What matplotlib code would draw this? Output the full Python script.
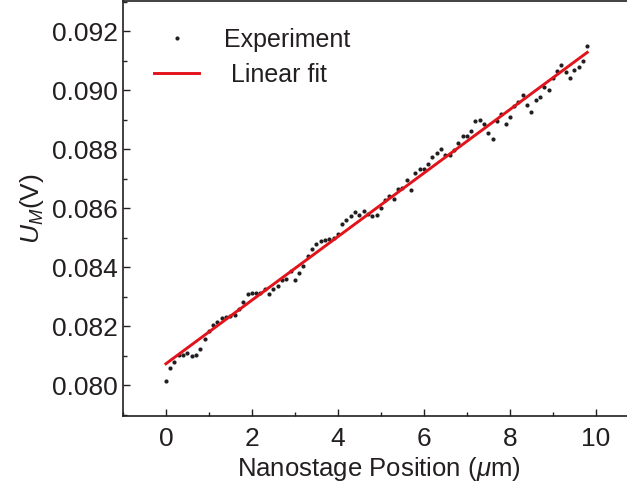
import numpy as np
import matplotlib.pyplot as plt
from matplotlib.ticker import MultipleLocator, FormatStrFormatter

position = np.round(np.arange(0, 9.85, 0.1), 1)
voltage = [
    0.08015, 0.08058, 0.08079, 0.08101, 0.08102, 0.08107, 0.08099, 0.08101, 0.08123, 0.08157,
    0.08182, 0.08204, 0.08215, 0.08227, 0.08232, 0.08235, 0.08237, 0.08258, 0.08282, 0.08307,
    0.08311, 0.08311, 0.08312, 0.08326, 0.08310, 0.08324, 0.08336, 0.08357, 0.08360, 0.08386,
    0.08357, 0.08380, 0.08403, 0.08438, 0.08462, 0.08477, 0.08488, 0.08492, 0.08494, 0.08497,
    0.08511, 0.08546, 0.08559, 0.08572, 0.08585, 0.08576, 0.08591, 0.08580, 0.08573, 0.08575,
    0.08601, 0.08626, 0.08640, 0.08632, 0.08665, 0.08668, 0.08694, 0.08661, 0.08720, 0.08733,
    0.08734, 0.08749, 0.08774, 0.08786, 0.08800, 0.08780, 0.08781, 0.08796, 0.08821, 0.08845,
    0.08845, 0.08860, 0.08896, 0.08898, 0.08885, 0.08853, 0.08833, 0.08894, 0.08919, 0.08884,
    0.08908, 0.08945, 0.08958, 0.08984, 0.08948, 0.08926, 0.08965, 0.08976, 0.09011, 0.09001,
    0.09040, 0.09063, 0.09086, 0.09061, 0.09041, 0.09068, 0.09079, 0.09100, 0.09148,
]
voltage = np.array(voltage)

# linear fit through the data
slope, intercept = np.polyfit(position, voltage, 1)
fit_x = np.array([position[0], position[-1]])
fit_y = intercept + slope * fit_x

ink = '#231f20'
plt.rcParams['font.family'] = ['Liberation Sans', 'DejaVu Sans']
plt.rcParams['mathtext.fontset'] = 'custom'
plt.rcParams['mathtext.it'] = 'Liberation Sans:italic'
plt.rcParams['mathtext.rm'] = 'Liberation Sans'

fig = plt.figure(figsize=(6.27, 4.86), dpi=100)
ax = fig.add_axes([0.196, 0.144, 0.816, 0.854])

ax.plot(position, voltage, 'o', color=ink, markersize=3.0, markeredgewidth=0,
        label='Experiment')
ax.plot(fit_x, fit_y, '-', color='#e3131b', linewidth=2.1, label=' Linear fit')

ax.set_xlim(-1, 10.9)
ax.set_ylim(0.07895, 0.09302)
ax.xaxis.set_major_locator(MultipleLocator(2))
ax.xaxis.set_minor_locator(MultipleLocator(1))
ax.yaxis.set_major_locator(MultipleLocator(0.002))
ax.yaxis.set_minor_locator(MultipleLocator(0.001))
ax.yaxis.set_major_formatter(FormatStrFormatter('%.3f'))

ax.tick_params(which='both', direction='in', colors=ink, labelsize=19,
               top=False, right=False, width=1.0)
ax.tick_params(which='major', length=5)
ax.tick_params(which='minor', length=3)
ax.tick_params(axis='x', which='major', pad=8)
for sp in ax.spines.values():
    sp.set_color(ink)
    sp.set_linewidth(1.2)

ax.set_xlabel(r'Nanostage Position ($\mu$m)', fontsize=18.5, color=ink, labelpad=3)
ax.set_ylabel(r'$U_M$(V)', fontsize=19, color=ink, labelpad=4)

leg = ax.legend(loc='upper left', bbox_to_anchor=(0.017, 0.99), frameon=False,
                fontsize=18, handlelength=1.8, handletextpad=1.0,
                labelspacing=0.45, markerscale=1.0)
for t in leg.get_texts():
    t.set_color(ink)

fig.savefig('out.png', dpi=100, facecolor='white')
